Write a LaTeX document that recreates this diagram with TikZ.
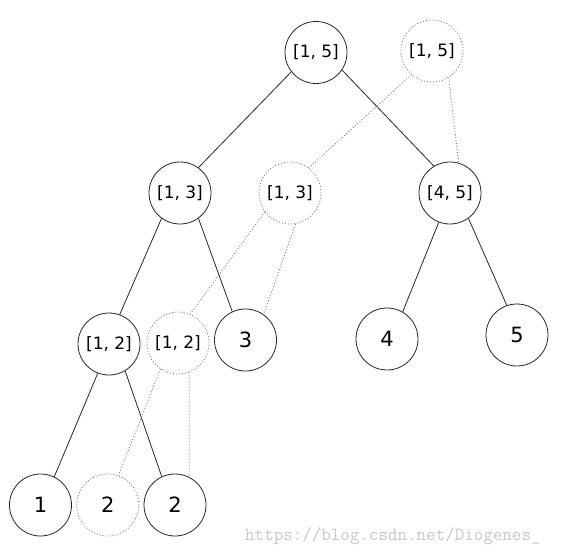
\documentclass[tikz,border=0pt]{standalone}
\usepackage{fontspec}
\setmainfont{DejaVu Sans}
\begin{document}
\begin{tikzpicture}[x=1pt,y=-1pt]
\tikzset{
  seg/.style={circle, draw=black!85, line width=0.8pt, minimum size=62pt, inner sep=0pt, font=\fontsize{17}{17}\selectfont},
  ghost/.style={seg, draw=black!55, dash pattern=on 1pt off 2pt},
  leaf/.style={seg, font=\fontsize{21}{21}\selectfont},
  ghostleaf/.style={ghost, font=\fontsize{21}{21}\selectfont},
  edge/.style={line width=0.8pt, draw=black!85},
  gedge/.style={draw=black!55, line width=0.8pt, dash pattern=on 1pt off 2pt},
}
\useasboundingbox (0,0) rectangle (564,552);
% nodes
\node[seg] (r15) at (316,52.5) {[1, 5]};
\node[ghost] (d15) at (432,51) {[1, 5]};
\node[seg] (n13) at (180,193) {[1, 3]};
\node[ghost] (d13) at (290,193) {[1, 3]};
\node[seg] (n45) at (450,193) {[4, 5]};
\node[seg] (n12) at (109,344) {[1, 2]};
\node[ghost] (d12) at (178,343) {[1, 2]};
\node[leaf] (n3) at (245.5,340) {3};
\node[leaf] (n4) at (387,339) {4};
\node[leaf] (n5) at (517,335) {5};
\node[leaf] (n1) at (40.5,505) {1};
\node[ghostleaf] (d2) at (107.7,505) {2};
\node[leaf] (n2) at (175,505) {2};
% edges
\draw[edge] (r15.-142) -- (n13.54);
\draw[edge] (r15.-34) -- (n45.121);
\draw[gedge] (d15.-131) -- (d13.53);
\draw[gedge] (d15.-58) -- (n45.74);
\draw[edge] (n13.-126) -- (n12.70);
\draw[edge] (n13.-54) -- (n3.115);
\draw[gedge] (d13.-143) -- (d12.67);
\draw[gedge] (d13.-80) -- (n3.55);
\draw[edge] (n45.-111) -- (n4.60);
\draw[edge] (n45.-54) -- (n5.109);
\draw[edge] (n12.-111) -- (n1.64);
\draw[edge] (n12.-59) -- (n2.115);
\draw[gedge] (d12.-124) -- (d2.70);
\draw[gedge] (d12.-69) -- (n2.63);
% watermark
\node[anchor=base west, inner sep=0pt, text=black!22, font=\ttfamily\fontsize{18.5}{18.5}\selectfont] (wm) at (245,540) {https://blog.csdn.net/Diogenes\_};
\end{tikzpicture}
\end{document}
